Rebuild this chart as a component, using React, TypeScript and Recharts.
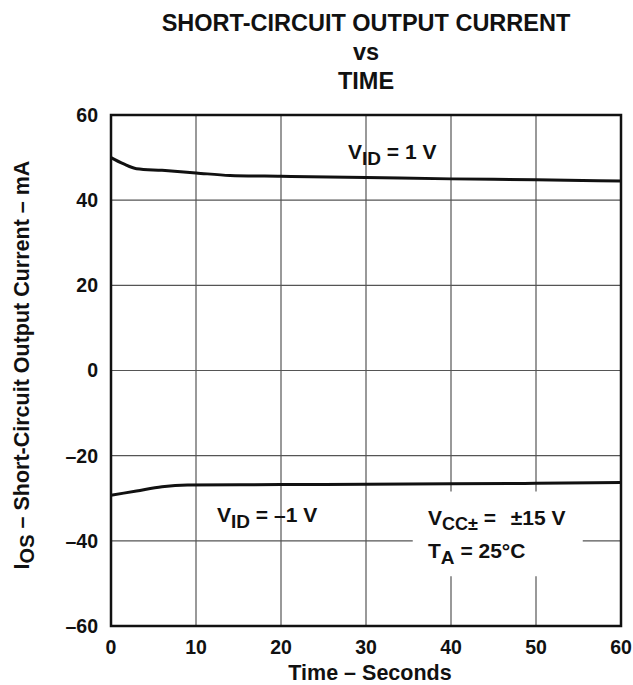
import React from 'react';
import { LineChart, Line, XAxis, YAxis, CartesianGrid, ReferenceArea } from 'recharts';

const X_TICKS = [0, 10, 20, 30, 40, 50, 60];
const Y_TICKS = [-60, -40, -20, 0, 20, 40, 60];

// V_ID = 1 V
const TIME_POS = [0, 1.5, 3, 6, 10, 14, 20, 30, 40, 50, 60];
const IOS_POS = [50, 48.5, 47.4, 47.0, 46.4, 45.8, 45.6, 45.3, 45.0, 44.8, 44.5];

// V_ID = -1 V
const TIME_NEG = [0, 3, 6, 9, 20, 30, 40, 50, 60];
const IOS_NEG = [-29.3, -28.3, -27.3, -26.9, -26.8, -26.7, -26.6, -26.5, -26.3];

const posData = TIME_POS.map((t, i) => ({ t, v: IOS_POS[i] }));
const negData = TIME_NEG.map((t, i) => ({ t, v: IOS_NEG[i] }));

const FONT = '"Liberation Sans", Arial, sans-serif';
const tickStyle = { fontFamily: FONT, fontWeight: 700, fontSize: 19.5, fill: '#111' };
const fmt = (v: number) => (v < 0 ? `–${-v}` : `${v}`);

export default function App() {
  return (
    <div style={{ position: 'absolute', left: 0, top: 0, width: 633, height: 685, background: '#fff' }}>
      <LineChart width={633} height={685} margin={{ top: 115, right: 12, left: 0, bottom: 0 }}>
        <CartesianGrid stroke="#555" strokeWidth={1.2} />
        <XAxis
          dataKey="t"
          type="number"
          domain={[0, 60]}
          ticks={X_TICKS}
          allowDuplicatedCategory={false}
          height={59}
          tickLine={false}
          axisLine={false}
          tickSize={0}
          tickMargin={14}
          tick={tickStyle}
        />
        <YAxis
          type="number"
          domain={[-60, 60]}
          ticks={Y_TICKS}
          width={111}
          tickLine={false}
          axisLine={false}
          tickSize={0}
          tickMargin={13}
          tick={tickStyle}
          tickFormatter={fmt}
        />
        <ReferenceArea x1={35.5} x2={55.5} y1={-48.3} y2={-28.4} fill="#fff" fillOpacity={1} stroke="none" />
        <Line data={posData} dataKey="v" type="monotone" stroke="#111" strokeWidth={3} dot={false} isAnimationActive={false} />
        <Line data={negData} dataKey="v" type="monotone" stroke="#111" strokeWidth={3} dot={false} isAnimationActive={false} />
        <ReferenceArea x1={0} x2={60} y1={-60} y2={60} fill="none" stroke="#111" strokeWidth={2.5} />
      </LineChart>
      <svg
        width={633}
        height={685}
        style={{ position: 'absolute', left: 0, top: 0, pointerEvents: 'none' }}
        fontFamily={FONT}
        fontWeight={700}
        fill="#111"
      >
        <g fontSize={23.5} textAnchor="middle">
          <text x={366} y={31}>SHORT-CIRCUIT OUTPUT CURRENT</text>
          <text x={366} y={60}>vs</text>
          <text x={366} y={89}>TIME</text>
        </g>
        <text x={370} y={680} fontSize={21.5} textAnchor="middle">Time – Seconds</text>
        <text fontSize={21.5} textAnchor="middle" transform="translate(29,365) rotate(-90)">
          I<tspan fontSize={20} dy={5}>OS</tspan>
          <tspan dy={-5}> – Short-Circuit Output Current – mA</tspan>
        </text>
        <g fontSize={21}>
          <text x={348} y={159}>
            V<tspan fontSize={19} dy={6}>ID</tspan>
            <tspan dy={-6}> = 1 V</tspan>
          </text>
          <text x={217} y={522}>
            V<tspan fontSize={19} dy={6}>ID</tspan>
            <tspan dy={-6}> = –1 V</tspan>
          </text>
          <text x={428} y={525}>
            V<tspan fontSize={18} dy={5}>CC±</tspan>
            <tspan dy={-5}> = </tspan>
            <tspan dx={9}>±15 V</tspan>
          </text>
          <text x={428} y={558}>
            T<tspan fontSize={19} dy={6}>A</tspan>
            <tspan dy={-6}> = 25°C</tspan>
          </text>
        </g>
      </svg>
    </div>
  );
}
